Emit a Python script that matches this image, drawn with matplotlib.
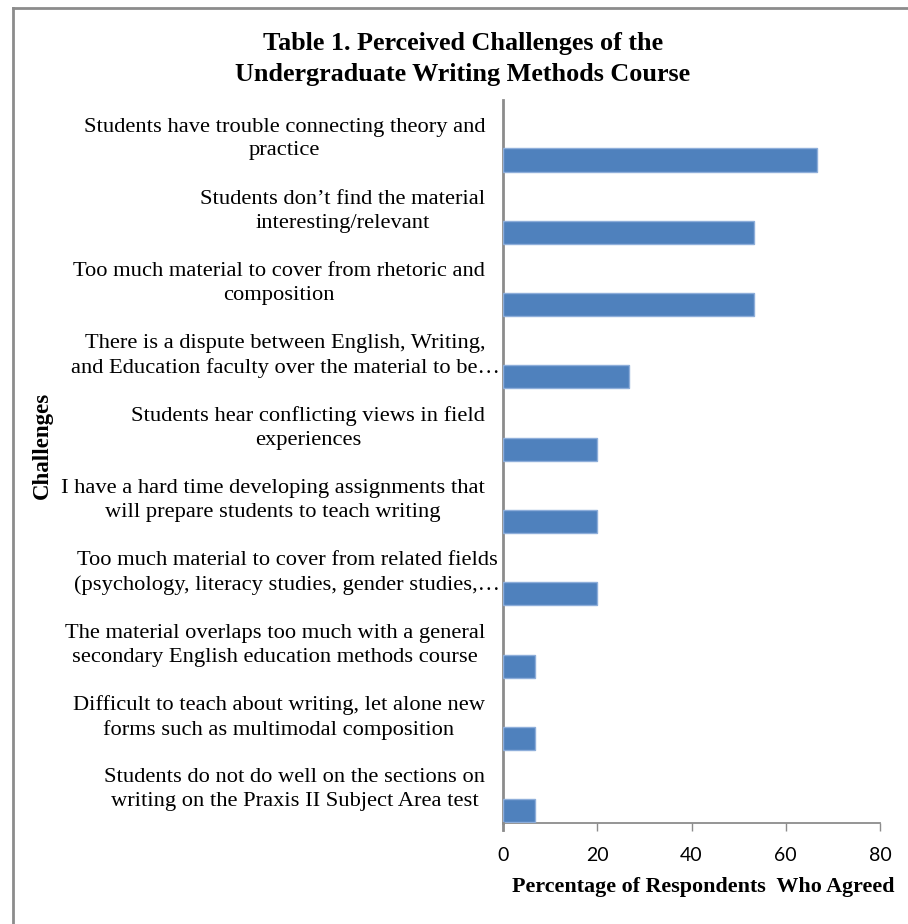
import numpy as np
import matplotlib
matplotlib.use("Agg")
import matplotlib.pyplot as plt
from matplotlib.transforms import blended_transform_factory

# Survey results: share of respondents who agreed with each challenge
challenges = [
    "Students have trouble connecting theory and\npractice",
    "Students don\u2019t find the material\ninteresting/relevant",
    "Too much material to cover from rhetoric and\ncomposition",
    "There is a dispute between English, Writing,\nand Education faculty over the material to be\u2026",
    "Students hear conflicting views in field\nexperiences",
    "I have a hard time developing assignments that\nwill prepare students to teach writing",
    "Too much material to cover from related fields\n(psychology, literacy studies, gender studies,\u2026",
    "The material overlaps too much with a general\nsecondary English education methods course",
    "Difficult to teach about writing, let alone new\nforms such as multimodal composition",
    "Students do not do well on the sections on\nwriting on the Praxis II Subject Area test",
]
percent_agreed = [66.7, 53.3, 53.3, 26.7, 20.0, 20.0, 20.0, 6.7, 6.7, 6.7]
x_ticks = [0, 20, 40, 60, 80]

title = "Table 1. Perceived Challenges of the\nUndergraduate Writing Methods Course"
x_title = "Percentage of Respondents  Who Agreed"
y_title = "Challenges"

SERIF = ["Liberation Serif", "DejaVu Serif"]
BAR_COLOR = "#4F81BD"
BAR_EDGE = "#8EAEDA"
AXIS_GRAY = "#8C8C8C"

W, H = 908, 924
fig = plt.figure(figsize=(W / 100, H / 100), dpi=100)
fig.patch.set_facecolor("white")

# chart frame (left and top edges)
fig.add_artist(plt.Line2D([13 / W, 13 / W], [0, 1 - 8 / H], transform=fig.transFigure,
                          color=AXIS_GRAY, lw=2))
fig.add_artist(plt.Line2D([13 / W, 1], [1 - 8 / H, 1 - 8 / H], transform=fig.transFigure,
                          color=AXIS_GRAY, lw=2))

left, right, top, bottom = 503, 880, 100, 823
ax = fig.add_axes([left / W, 1 - bottom / H, (right - left) / W, (bottom - top) / H])

n = len(challenges)
idx = np.arange(n)
bar_h = 0.32
ax.barh(idx + 1 - bar_h / 2 - 0.01, percent_agreed, height=bar_h, color=BAR_COLOR,
        edgecolor=BAR_EDGE, linewidth=1.0, zorder=3)

ax.set_xlim(0, 80)
ax.set_ylim(n, 0)
ax.set_xticks(x_ticks)
ax.set_xticklabels([str(t) for t in x_ticks], fontfamily="Lato", fontsize=14, color="black")
ax.tick_params(axis="x", direction="out", length=6, width=1, color=AXIS_GRAY, pad=11)
ax.set_yticks([])

for side in ("top", "right"):
    ax.spines[side].set_visible(False)
ax.spines["left"].set_color(AXIS_GRAY)
ax.spines["left"].set_linewidth(2)
ax.spines["bottom"].set_color(AXIS_GRAY)
ax.spines["bottom"].set_linewidth(1.3)
# extend the value axis line down through the tick zone
ax.plot([0, 0], [n, n + 0.1], color=AXIS_GRAY, lw=2, clip_on=False, zorder=4)

# category labels, right aligned against the axis, lines centred
label_tf = blended_transform_factory(fig.transFigure, ax.transData)
for i, lab in enumerate(challenges):
    truncated = lab.endswith("\u2026")
    x_px = 500 if truncated else 485
    ax.text(x_px / W, i + 0.54, lab, transform=label_tf,
            ha="right", va="center", multialignment="center",
            fontfamily=SERIF, fontsize=16.2, linespacing=1.35, color="black")

fig.text(463 / W, 1 - 59 / H, title, ha="center", va="center", fontfamily=SERIF,
         fontweight="bold", fontsize=18.8, linespacing=1.4)
fig.text(703 / W, 1 - 887 / H, x_title, ha="center", va="center", fontfamily=SERIF,
         fontweight="bold", fontsize=15.8)
fig.text(42 / W, 1 - 445 / H, y_title, ha="center", va="center", rotation=90,
         fontfamily=SERIF, fontweight="bold", fontsize=16.5)

fig.savefig("out.png", dpi=100, facecolor="white")
